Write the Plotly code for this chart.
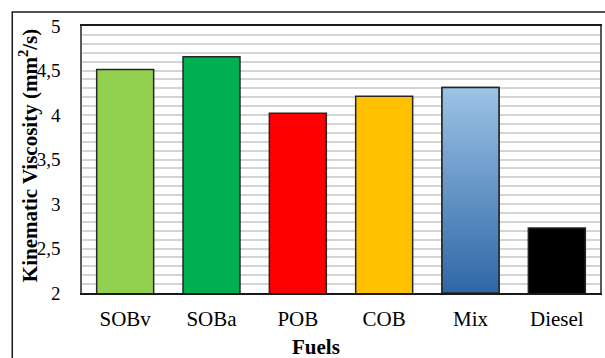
import plotly.graph_objects as go

# Kinematic viscosity of each fuel (mm²/s)
fuels = ["SOBv", "SOBa", "POB", "COB", "Mix", "Diesel"]
viscosity = [4.51, 4.655, 4.02, 4.21, 4.31, 2.73]
bar_colors = ["#92D050", "#00B050", "#FF0000", "#FFC000", "#9DC3E6", "#000000"]
y_ticks = [2, 2.5, 3, 3.5, 4, 4.5, 5]

BAR_WIDTH = 0.66
Y_MIN, Y_MAX = 2, 5
SERIF = "Liberation Serif"
OUTLINE = "#262626"

# plot-area geometry in pixels (used to place free-standing labels)
L, R, T, B = 82, 3, 26, 65
W, H = 605, 358
PW, PH = W - L - R, H - T - B

positions = list(range(len(fuels)))

fig = go.Figure()
fig.add_trace(go.Bar(
    x=positions,
    y=viscosity,
    width=BAR_WIDTH,
    marker=dict(color=bar_colors, line=dict(color=OUTLINE, width=1.5)),
    hoverinfo="x+y",
    showlegend=False,
))

# Mix bar gets a light-to-dark blue vertical gradient
mix_i = fuels.index("Mix")
mix_v = viscosity[mix_i]
x0, x1 = mix_i - BAR_WIDTH / 2, mix_i + BAR_WIDTH / 2
fig.add_trace(go.Scatter(
    x=[x0, x1, x1, x0, x0],
    y=[Y_MIN, Y_MIN, mix_v, mix_v, Y_MIN],
    mode="lines",
    fill="toself",
    fillgradient=dict(type="vertical",
                      colorscale=[[0, "#2E67A6"], [1, "#9DC3E6"]]),
    line=dict(color=OUTLINE, width=1.5),
    hoverinfo="skip",
    showlegend=False,
))


def px_x(px):
    return (px - L) / PW


def px_y(py):
    return (H - B - py) / PH


fig.update_layout(
    width=W,
    height=H,
    margin=dict(l=L, r=R, t=T, b=B),
    paper_bgcolor="white",
    plot_bgcolor="white",
    separators=",.",
    font=dict(family=SERIF, color="#000000"),
    bargap=0.34,
    xaxis=dict(
        range=[-0.5, len(fuels) - 0.5],
        tickmode="array",
        tickvals=positions,
        ticktext=fuels,
        tickfont=dict(size=21, family=SERIF),
        showgrid=False,
        zeroline=False,
        showline=True,
        linecolor="#1a1a1a",
        linewidth=2,
        mirror=True,
        ticks="",
        ticklabelstandoff=6,
    ),
    yaxis=dict(
        range=[Y_MIN, Y_MAX],
        tickmode="array",
        tickvals=y_ticks,
        tickfont=dict(size=19, family=SERIF),
        showgrid=True,
        gridcolor="#d4d4d4",
        gridwidth=1.5,
        minor=dict(dtick=0.1, showgrid=True, gridcolor="#d4d4d4", gridwidth=1.5),
        zeroline=False,
        showline=True,
        linecolor="#595959",
        linewidth=1.5,
        mirror=True,
        ticks="",
        ticklabelstandoff=16,
    ),
    annotations=[
        dict(
            text="<b>Fuels</b>", xref="paper", yref="paper",
            x=px_x(317), y=px_y(347),
            xanchor="center", yanchor="middle", showarrow=False,
            font=dict(size=21, family=SERIF),
        ),
        dict(
            text="<b>Kinematic Viscosity (mm<sup>2</sup>/s)</b>",
            xref="paper", yref="paper",
            x=px_x(28), y=px_y(156),
            xanchor="center", yanchor="middle", showarrow=False,
            textangle=-90,
            font=dict(size=21, family=SERIF),
        ),
    ],
    shapes=[dict(
        type="rect", xref="paper", yref="paper",
        x0=px_x(12), x1=1.2, y0=-0.5, y1=px_y(12),
        line=dict(color="#1a1a1a", width=1.5), fillcolor="rgba(0,0,0,0)",
        layer="below",
    )],
)

fig.write_html("out.html")
